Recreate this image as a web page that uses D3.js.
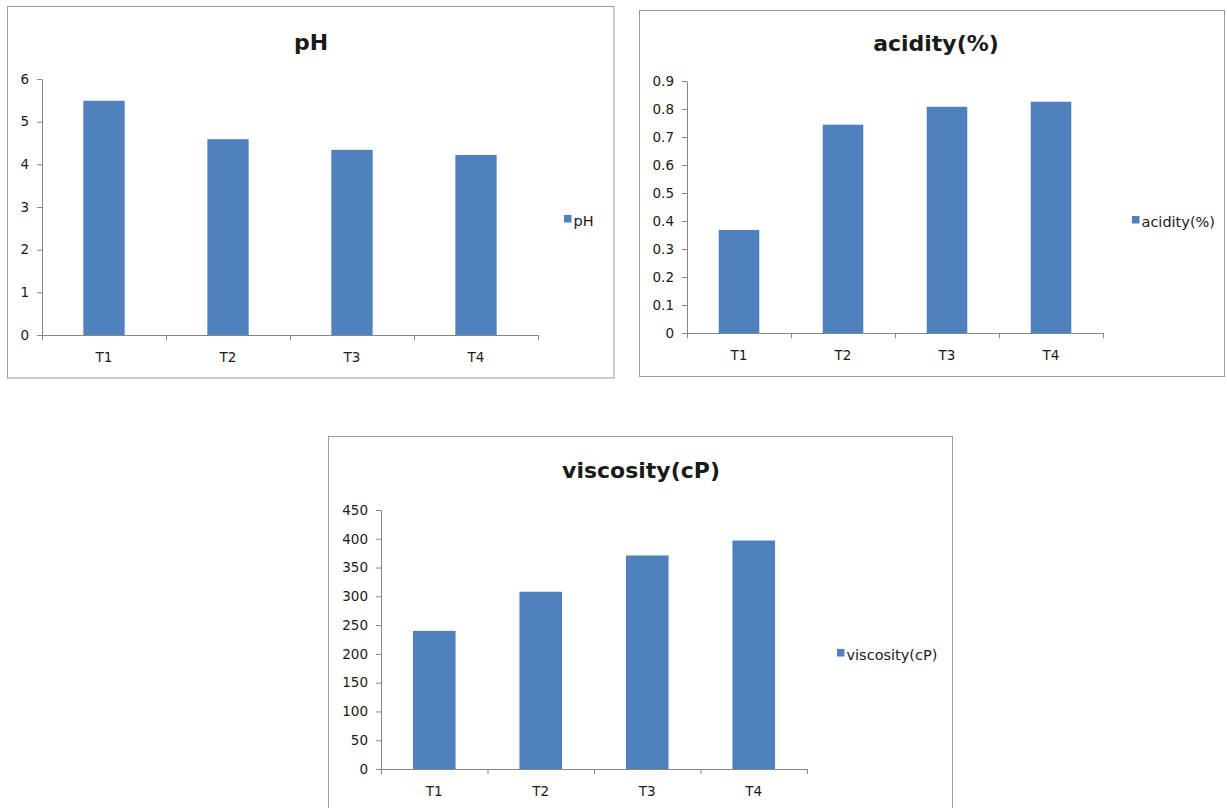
<!DOCTYPE html>
<html>
<head>
<meta charset="utf-8">
<script src="https://cdn.jsdelivr.net/npm/d3@7"></script>
<style>
  html, body { margin: 0; padding: 0; background: #fff; overflow: hidden; }
  svg { display: block; }
  text { font-family: "DejaVu Sans", sans-serif; fill: #1a1a1a; }
</style>
</head>
<body>
<script>
// data
const categories = ["T1", "T2", "T3", "T4"];
const phValues = [5.49, 4.59, 4.34, 4.22];
const acidityValues = [0.368, 0.744, 0.808, 0.826];
const viscosityValues = [240, 308, 371, 397];
const phTicks = [0, 1, 2, 3, 4, 5, 6];
const acidityTicks = [0, 0.1, 0.2, 0.3, 0.4, 0.5, 0.6, 0.7, 0.8, 0.9];
const viscosityTicks = [0, 50, 100, 150, 200, 250, 300, 350, 400, 450];

const width = 1227, height = 808;
const barColor = "#4F81BD";
const axisColor = "#868686";
const tickFont = 13.5;

const svg = d3.select("body").append("svg")
    .attr("width", width)
    .attr("height", height)
    .attr("viewBox", [0, 0, width, height]);

function BarPanel({
  name, values, ticks,
  frame, // [x, y, w, h] of the chart border
  plot, // {left, right, top, bottom}
  padding, // band padding, matches Excel gap width
  title, // [x, baseline]
  legend // [x, y] of legend swatch
}) {
  const g = svg.append("g");

  g.append("rect")
      .attr("x", frame[0]).attr("y", frame[1])
      .attr("width", frame[2]).attr("height", frame[3])
      .attr("fill", "#fff")
      .attr("stroke", "#9a9a9a");

  const x = d3.scaleBand(categories, [plot.left, plot.right])
      .paddingInner(padding).paddingOuter(padding / 2);
  const xEdges = d3.scaleLinear([0, categories.length], [plot.left, plot.right]);
  const y = d3.scaleLinear([0, d3.max(ticks)], [plot.bottom, plot.top]);

  // y axis
  g.append("g")
      .attr("transform", `translate(${plot.left},0)`)
      .call(d3.axisLeft(y).tickValues(ticks).tickFormat(d3.format("~g"))
          .tickSize(5).tickPadding(8).tickSizeOuter(0))
      .call(a => a.select(".domain").attr("stroke", axisColor))
      .call(a => a.selectAll(".tick line").attr("stroke", axisColor))
      .call(a => a.selectAll(".tick text")
          .attr("font-size", tickFont).attr("font-family", "DejaVu Sans").attr("fill", "#1a1a1a"));

  // bars
  g.append("g")
    .selectAll("rect")
    .data(values)
    .join("rect")
      .attr("x", (d, i) => x(categories[i]))
      .attr("y", d => y(d))
      .attr("width", x.bandwidth())
      .attr("height", d => y(0) - y(d))
      .attr("fill", barColor);

  // x axis line with ticks at category edges
  g.append("g")
      .attr("transform", `translate(0,${plot.bottom})`)
      .call(d3.axisBottom(xEdges).tickValues(d3.range(categories.length + 1))
          .tickFormat("").tickSize(5).tickSizeOuter(0))
      .call(a => a.select(".domain").attr("stroke", axisColor))
      .call(a => a.selectAll(".tick line").attr("stroke", axisColor));

  // x labels
  g.append("g")
      .attr("transform", `translate(0,${plot.bottom})`)
      .call(d3.axisBottom(x).tickSize(0).tickPadding(17.5))
      .call(a => a.select(".domain").remove())
      .call(a => a.selectAll(".tick text")
          .attr("font-size", tickFont).attr("font-family", "DejaVu Sans").attr("fill", "#1a1a1a"));

  g.append("text")
      .attr("x", title[0]).attr("y", title[1])
      .attr("text-anchor", "middle")
      .attr("font-size", 22)
      .attr("font-weight", "bold")
      .text(name);

  g.append("rect")
      .attr("x", legend[0]).attr("y", legend[1])
      .attr("width", 7.5).attr("height", 7.5)
      .attr("fill", barColor);
  g.append("text")
      .attr("x", legend[0] + 9.5).attr("y", legend[1] + 11)
      .attr("font-size", 14.5)
      .text(name);
}

BarPanel({
  name: "pH", values: phValues, ticks: phTicks,
  frame: [7.5, 6.5, 606.5, 371.5],
  plot: {left: 42, right: 538, top: 79, bottom: 335},
  padding: 0.667, title: [311, 50], legend: [564, 215]
});

BarPanel({
  name: "acidity(%)", values: acidityValues, ticks: acidityTicks,
  frame: [639.5, 10.5, 585, 366],
  plot: {left: 687, right: 1103, top: 81, bottom: 333},
  padding: 0.61, title: [936, 51], legend: [1132, 216]
});

BarPanel({
  name: "viscosity(cP)", values: viscosityValues, ticks: viscosityTicks,
  frame: [328.5, 436.5, 624, 400],
  plot: {left: 381, right: 807, top: 510, bottom: 769},
  padding: 0.6, title: [641, 478], legend: [837, 649]
});
</script>
</body>
</html>
